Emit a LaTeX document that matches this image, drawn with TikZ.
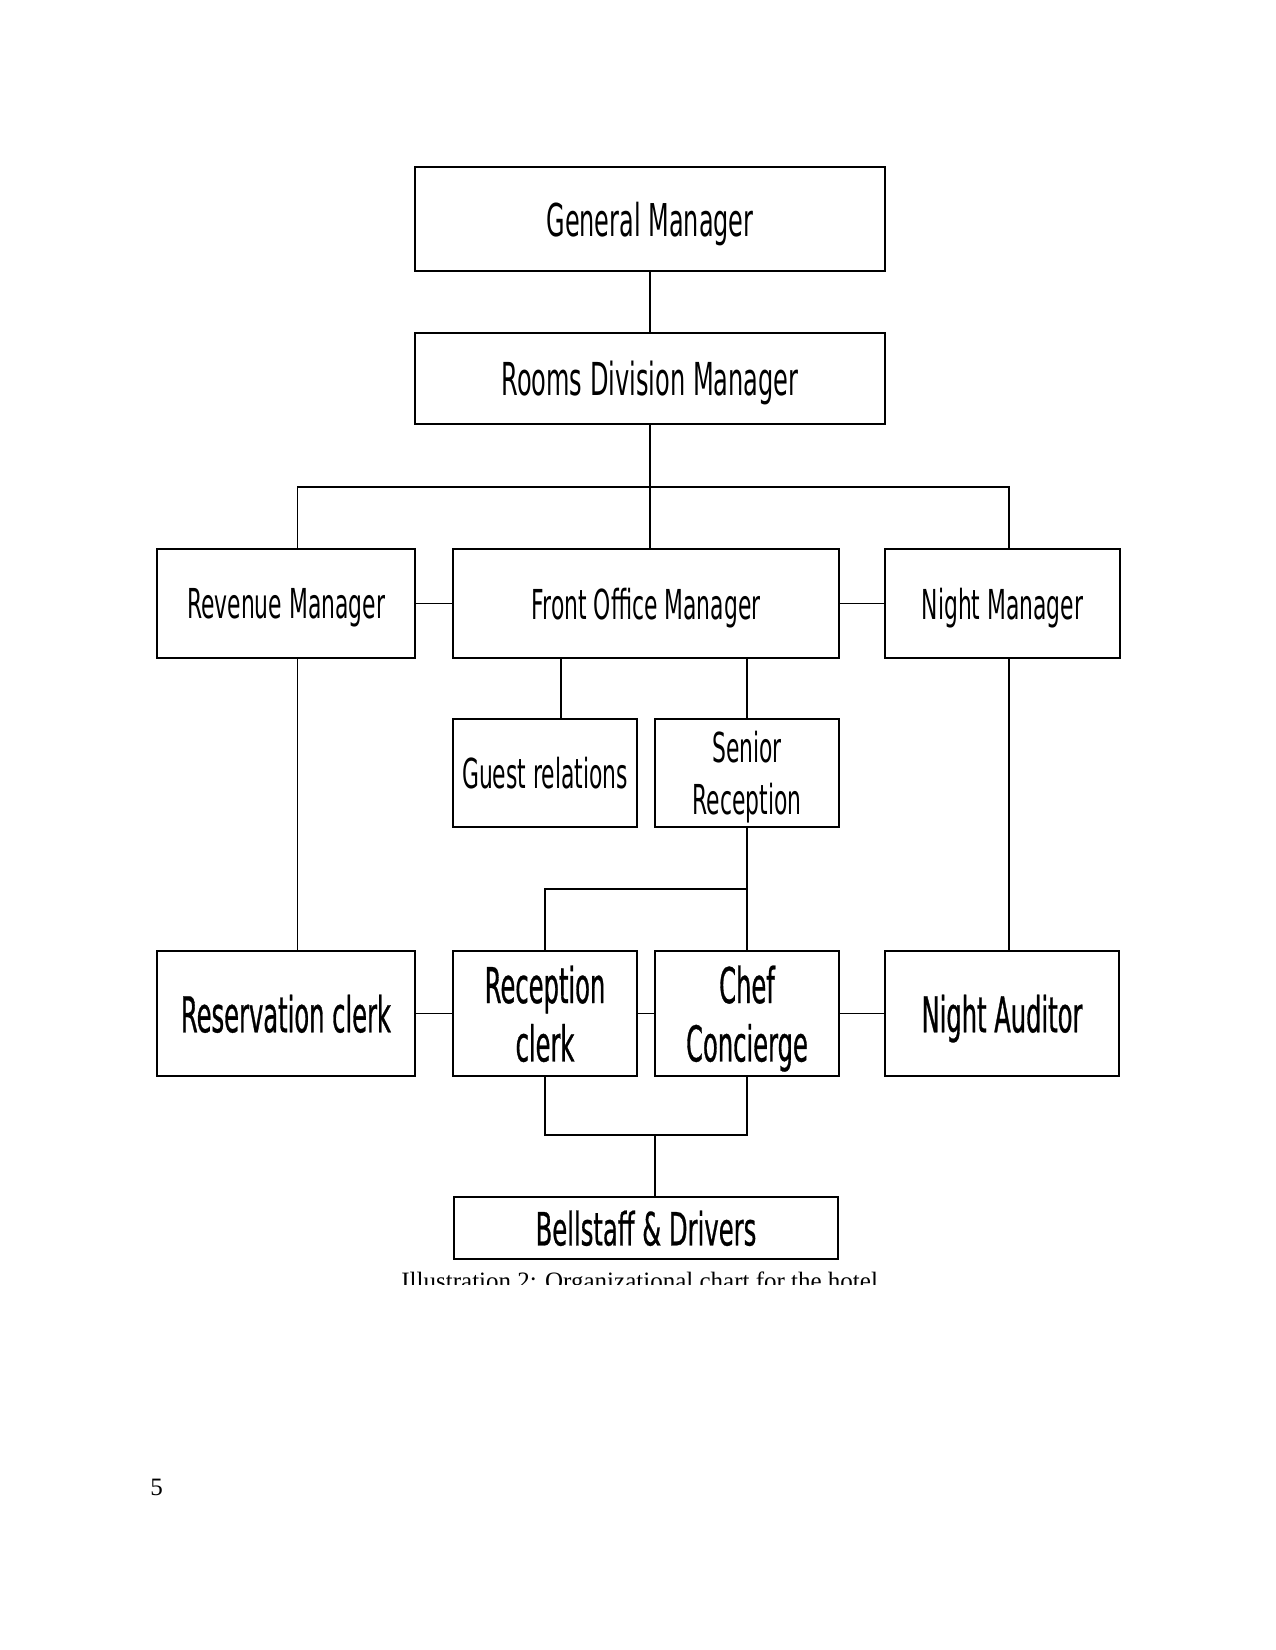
\documentclass[tikz,border=0pt]{standalone}
\usepackage{fontspec}
\setmainfont{Liberation Serif}
\newfontfamily\boxfont[FakeStretch=0.53]{DejaVu Sans}
\newfontfamily\boxfontb[FakeStretch=0.49,FakeBold=0.6]{DejaVu Sans}
\newfontfamily\boxfontc[FakeStretch=0.53,FakeBold=0.5]{DejaVu Sans}
\newcommand{\pxu}{0.48pt}
\begin{document}
\begin{tikzpicture}[x=0.48pt,y=-0.48pt,
  bx/.style={draw, line width=1pt, inner sep=0pt, align=center, text depth=0pt},
  conn/.style={line width=0.85pt}]
\useasboundingbox (0,0) rectangle (1275,1650);
% boxes
\node[bx, minimum width=470*\pxu, minimum height=104*\pxu, font=\boxfont\fontsize{21.7}{26}\selectfont] (gm) at (650,219) {General Manager};
\node[bx, minimum width=470*\pxu, minimum height=91*\pxu, font=\boxfont\fontsize{21.8}{26}\selectfont] (rdm) at (650,378.5) {Rooms Division Manager};
\node[bx, minimum width=258*\pxu, minimum height=109*\pxu, font=\boxfont\fontsize{19.8}{24}\selectfont] (rm) at (286,603.5) {Revenue Manager};
\node[bx, minimum width=386*\pxu, minimum height=109*\pxu, font=\boxfont\fontsize{19.8}{24}\selectfont] (fom) at (646,603.5) {Front Office Manager};
\node[bx, minimum width=235*\pxu, minimum height=109*\pxu, font=\boxfont\fontsize{19.8}{24}\selectfont] (nm) at (1002.5,603.5) {Night Manager};
\node[bx, minimum width=184*\pxu, minimum height=108*\pxu, font=\boxfont\fontsize{19.8}{24}\selectfont] (gr) at (545,773) {Guest relations};
\node[bx, minimum width=184*\pxu, minimum height=108*\pxu, font=\boxfont\fontsize{19.8}{25}\selectfont] (sr) at (747,773) {Senior\\Reception};
\node[bx, minimum width=258*\pxu, minimum height=125*\pxu, font=\boxfontb\fontsize{23.7}{28}\selectfont] (resc) at (286,1013.5) {Reservation clerk};
\node[bx, minimum width=184*\pxu, minimum height=125*\pxu, font=\boxfontb\fontsize{23.7}{28}\selectfont] (recc) at (545,1013.5) {Reception\\clerk};
\node[bx, minimum width=184*\pxu, minimum height=125*\pxu, font=\boxfontb\fontsize{23.7}{28}\selectfont] (cc) at (747,1013.5) {Chef\\Concierge};
\node[bx, minimum width=234*\pxu, minimum height=125*\pxu, font=\boxfontb\fontsize{23.7}{28}\selectfont] (na) at (1002,1013.5) {Night Auditor};
\node[bx, minimum width=384*\pxu, minimum height=62*\pxu, font=\boxfontc\fontsize{22}{26}\selectfont] (bd) at (646,1228) {Bellstaff \& Drivers};
% helper coordinates
\coordinate (busL) at (297.5,487);
\coordinate (busR) at (1009,487);
\coordinate (xgr) at (561,0);
\coordinate (topbus) at (747,889);
\coordinate (botbus) at (747,1135);
\coordinate (xb) at (655,0);
% connectors
\draw[conn] (gm.south) -- (rdm.north);
\draw[conn] (rdm.south) -- (rdm.south |- fom.north);
\draw[conn] (busL |- rm.north) -- (busL) -- (busR) -- (busR |- nm.north);
\draw[conn] (rm.east) -- (fom.west);
\draw[conn] (fom.east) -- (nm.west);
\draw[conn] (xgr |- fom.south) -- (xgr |- gr.north);
\draw[conn] (sr.north |- fom.south) -- (sr.north);
\draw[conn] (busL |- rm.south) -- (busL |- resc.north);
\draw[conn] (busR |- nm.south) -- (busR |- na.north);
\draw[conn] (sr.south) -- (cc.north);
\draw[conn] (topbus) -| (recc.north);
\draw[conn] (resc.east) -- (recc.west);
\draw[conn] (recc.east) -- (cc.west);
\draw[conn] (cc.east) -- (na.west);
\draw[conn] (recc.south) |- (botbus) -- (cc.south);
\draw[conn] (xb |- botbus) -- (xb |- bd.north);
% caption (clipped as in the reference)
\begin{scope}
\clip (0,1262) rectangle (1275,1284);
\node[anchor=base west, inner sep=0pt, font=\fontsize{12}{14}\selectfont] (cap) at (401,1289) {Illustration 2: Organizational chart for the hotel};
\end{scope}
\node[anchor=base west, inner sep=0pt, font=\fontsize{12}{14}\selectfont] (pgnum) at (150,1495) {5};
\end{tikzpicture}
\end{document}
